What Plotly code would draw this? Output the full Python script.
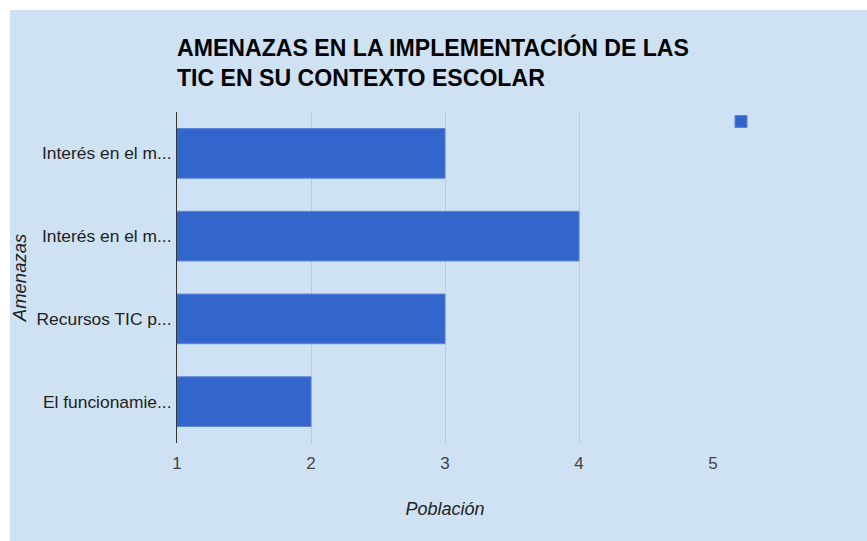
import plotly.graph_objects as go

# ---- data ----
categories = ["Interés en el m...", "Interés en el m...", "Recursos TIC p...", "El funcionamie..."]
values = [3, 4, 3, 2]
x_ticks = [1, 2, 3, 4, 5]
title_text = "AMENAZAS EN LA IMPLEMENTACIÓN DE LAS<br>TIC EN SU CONTEXTO ESCOLAR"
x_title = "Población"
y_title = "Amenazas"

W, H = 867, 541
L, R, T, B = 177, 713, 112, 443
BG = "#cfe2f3"
BAR = "#3366cc"
FONT = "Arial, Liberation Sans, sans-serif"

positions = list(range(len(categories)))

fig = go.Figure()
fig.add_trace(go.Bar(
    y=positions, x=values, orientation="h",
    marker=dict(color=BAR, line=dict(color="#5a85d6", width=1)),
    width=0.6, name=" ", showlegend=True,
))

def px_x(p):
    return (p - L) / (R - L)

def px_y(p):
    return (B - p) / (B - T)

fig.add_shape(type="rect", xref="paper", yref="paper",
              x0=px_x(10), x1=px_x(W + 5), y0=px_y(H + 5), y1=px_y(10),
              fillcolor=BG, line=dict(width=0), layer="below")

fig.update_layout(
    width=W, height=H,
    margin=dict(l=L, r=W - R, t=T, b=H - B, pad=0),
    paper_bgcolor="white",
    plot_bgcolor="rgba(0,0,0,0)",
    font=dict(family=FONT, color="#444444"),
    title=dict(text=title_text, x=px_x(177), xref="paper", xanchor="left",
               y=1 - 56 / H, yref="container", yanchor="top",
               font=dict(family=FONT, size=23.1, color="#000000", weight="bold")),
    bargap=0.4,
    showlegend=True,
    legend=dict(x=px_x(721), y=px_y(107), xanchor="left", yanchor="top",
                bgcolor="rgba(0,0,0,0)", font=dict(size=12)),
    xaxis=dict(range=[1, 5], tickvals=x_ticks, ticktext=[str(v) for v in x_ticks],
               showgrid=True, gridcolor="#c8c8c8", gridwidth=1, zeroline=False,
               showline=False, ticks="", tickfont=dict(size=17, color="#444444"),
               ticklabelstandoff=8,
               title=dict(text="<i>" + x_title + "</i>", font=dict(size=18, color="#222222"),
                          standoff=30)),
    yaxis=dict(range=[len(categories) - 0.5, -0.5], tickvals=positions, ticktext=categories,
               showgrid=False, zeroline=False, showline=True, linecolor="#333333", linewidth=1,
               ticks="", tickfont=dict(size=17.4, color="#222222"), ticklabelstandoff=1,
               title=dict(text="<i>" + y_title + "</i>", font=dict(size=18.5, color="#222222"),
                          standoff=5)),
)

fig.write_html("out.html", config={"displayModeBar": False},
               post_script="document.body.style.margin='0';")
